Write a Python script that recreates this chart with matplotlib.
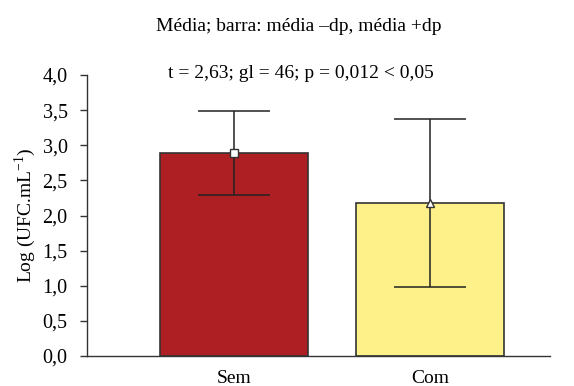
import matplotlib.pyplot as plt

# values
groups = ['Sem', 'Com']
means = [2.89, 2.18]
sds = [0.60, 1.20]
colors = ['#AE1F24', '#FEF18A']
markers = ['s', '^']

plt.rcParams['font.family'] = ['Liberation Serif', 'DejaVu Serif']
plt.rcParams['mathtext.fontset'] = 'custom'
plt.rcParams['mathtext.rm'] = 'Liberation Serif'

fig = plt.figure(figsize=(5.74, 3.86), dpi=100)
ax = fig.add_axes([0.1516, 0.0777, 0.958 - 0.1516, 0.8057 - 0.0777])

x = list(range(len(groups)))
ax.bar(x, means, width=0.755, color=colors, edgecolor='#333333', linewidth=1.2, zorder=2)
for xi, m, s, mk in zip(x, means, sds, markers):
    ax.errorbar(xi, m, yerr=s, fmt='none', ecolor='#222222', elinewidth=1.1,
                capsize=26, capthick=1.1, zorder=3)
    ax.plot(xi, m, marker=mk, markersize=6, markerfacecolor='white',
            markeredgecolor='#333333', markeredgewidth=1.0, linestyle='none', zorder=4)

ax.set_xlim(-0.751, 1.611)
ax.set_ylim(0, 4.0)
ax.set_yticks([i * 0.5 for i in range(9)])
ax.set_yticklabels([f'{i * 0.5:.1f}'.replace('.', ',') for i in range(9)], fontsize=14.5)
ax.set_xticks(x)
ax.set_xticklabels(groups, fontsize=14)
ax.tick_params(axis='x', length=0, pad=10)
ax.tick_params(axis='y', direction='out', length=5, width=1, color='#333333', pad=9)
ax.set_ylabel(r'Log (UFC.mL$^{\mathrm{-1}}$)', fontsize=14, labelpad=3)

for side in ['top', 'right']:
    ax.spines[side].set_visible(False)
for side in ['left', 'bottom']:
    ax.spines[side].set_color('#333333')
    ax.spines[side].set_linewidth(1.0)

fig.text(0.52, 0.932, 'Média; barra: média –dp, média +dp', ha='center', va='center', fontsize=14)
fig.text(0.525, 0.81, 't = 2,63; gl = 46; p = 0,012 < 0,05', ha='center', va='center', fontsize=14)

fig.savefig('out.png', dpi=100)
